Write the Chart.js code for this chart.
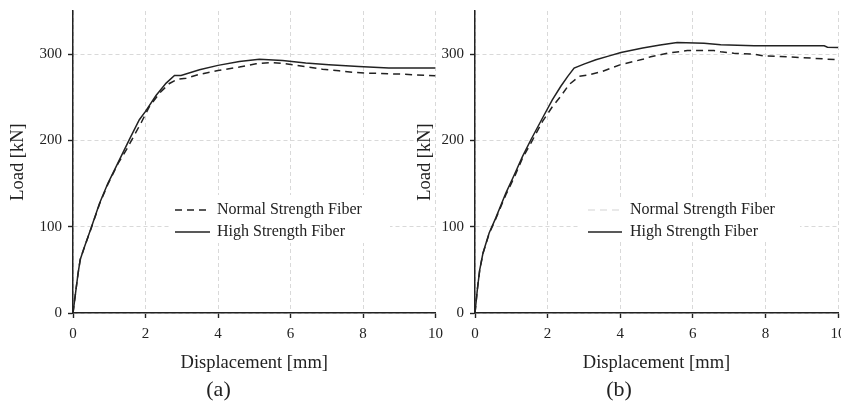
<!DOCTYPE html>
<html><head><meta charset="utf-8">
<script src="https://cdn.jsdelivr.net/npm/chart.js@4"></script>
<style>
html,body{margin:0;padding:0;background:#fff;overflow:hidden;width:841px;height:403px;}
canvas{position:absolute;top:0;}
#ca{left:0;} #cb{left:400px;}
</style></head><body>
<canvas id="ca" width="450" height="403"></canvas>
<canvas id="cb" width="460" height="403"></canvas>
<script>
// ---------- data ----------
const seriesNames = ['Normal Strength Fiber', 'High Strength Fiber'];
const panelLabels = ['(a)', '(b)'];
const xTitle = 'Displacement [mm]';
const yTitle = 'Load [kN]';
const xMajorTicks = [0, 2, 4, 6, 8, 10];
const yMajorTicks = [0, 100, 200, 300];

const aNormalX = [0, 0.07, 0.14, 0.2, 0.32, 0.5, 0.73, 0.96, 1.24, 1.47, 1.88, 2.11, 2.39, 2.66, 2.89, 3.12, 3.49, 4.0, 4.59, 5.05, 5.5, 5.96, 6.51, 6.88, 7.34, 7.79, 8.16, 9.07, 10.0];
const aNormalY = [0, 23, 46, 62, 77, 98, 126, 149, 173, 189, 220.5, 239.4, 255, 266, 271, 272, 276.6, 281, 285, 288.8, 290.3, 288.4, 285, 282.6, 280.7, 278.7, 278, 276.8, 274.9];
const aHighX = [0, 0.07, 0.14, 0.2, 0.32, 0.5, 0.73, 0.96, 1.24, 1.56, 1.83, 2.0, 2.29, 2.57, 2.8, 2.98, 3.49, 4.0, 4.59, 5.14, 5.78, 6.42, 7.06, 7.88, 8.71, 10.0];
const aHighY = [0, 23, 46, 62, 77, 98.5, 127, 150, 174, 201.5, 224, 233.6, 252, 266.4, 275.3, 275.3, 282, 287, 291.5, 294.2, 292.6, 289.6, 287.6, 285.7, 283.8, 283.8];

const bNormalX = [0, 0.064, 0.13, 0.22, 0.39, 0.57, 0.85, 1.08, 1.31, 1.54, 1.86, 2.13, 2.36, 2.59, 2.87, 3.14, 3.51, 4.02, 4.62, 4.84, 5.3, 5.85, 6.58, 6.77, 7.13, 7.69, 7.96, 8.42, 9.25, 10.0];
const bNormalY = [0, 27, 50, 69, 92, 109, 137, 157, 179.5, 197, 222, 239, 251, 264.7, 274.3, 276, 280, 288, 294, 297, 301, 304.2, 304.2, 302.7, 301, 300, 298, 297.3, 295.4, 293.4];
const bHighX = [0, 0.064, 0.13, 0.22, 0.39, 0.57, 0.85, 1.08, 1.31, 1.54, 1.86, 2.13, 2.36, 2.55, 2.73, 3.0, 3.33, 3.7, 4.02, 4.62, 5.1, 5.57, 6.31, 6.77, 7.69, 9.62, 9.71, 10.0];
const bHighY = [0, 27, 50, 69.5, 92.7, 110, 139, 160, 181.5, 200.8, 226, 247, 262.5, 274, 283.8, 288.4, 293.4, 298, 302, 307, 310.5, 313.5, 312.7, 310.8, 309.6, 309.6, 308, 307.7];

// ---------- helpers ----------
const pts = (xs, ys) => xs.map((x, i) => ({x, y: ys[i]}));
const FONT = '"Liberation Serif", "Times New Roman", serif';
const INK = '#222';

const minorTicks = {
  id: 'minorTicks',
  afterDraw(chart) {
    const ctx = chart.ctx, xs = chart.scales.x, ys = chart.scales.y;
    ctx.save();
    ctx.strokeStyle = INK; ctx.lineWidth = 1.2; ctx.setLineDash([]);
    xs.ticks.forEach(t => {
      if (xMajorTicks.includes(t.value)) return;
      const px = xs.getPixelForValue(t.value);
      ctx.beginPath(); ctx.moveTo(px, ys.bottom - 1); ctx.lineTo(px, ys.bottom + 3); ctx.stroke();
    });
    ys.ticks.forEach(t => {
      if (yMajorTicks.includes(t.value)) return;
      const py = ys.getPixelForValue(t.value);
      ctx.beginPath(); ctx.moveTo(xs.left - 4, py); ctx.lineTo(xs.left, py); ctx.stroke();
    });
    ctx.restore();
  }
};

const inLegend = {
  id: 'inLegend',
  beforeDatasetsDraw(chart, args, o) {
    const ctx = chart.ctx;
    ctx.save(); ctx.fillStyle = '#fff';
    ctx.fillRect(o.box[0], o.box[1], o.box[2], o.box[3]);
    ctx.restore();
  },
  afterDatasetsDraw(chart, args, o) {
    const ctx = chart.ctx;
    ctx.save();
    chart.data.datasets.forEach((ds, i) => {
      const y = o.y0 + i * o.dy;
      ctx.beginPath();
      ctx.setLineDash(ds.borderDash || []);
      ctx.strokeStyle = i === 0 ? o.firstColor : ds.borderColor;
      ctx.lineWidth = 1.5;
      ctx.moveTo(o.x0, y); ctx.lineTo(o.x1, y); ctx.stroke();
      ctx.setLineDash([]);
      ctx.fillStyle = INK;
      ctx.font = '16px ' + FONT;
      ctx.textBaseline = 'middle';
      ctx.textAlign = 'left';
      ctx.fillText(ds.label, o.tx, y);
    });
    ctx.restore();
  }
};

function makeChart(id, normal, high, label, yW, yTitlePad, padRight, legend) {
  const titleBox = 22 * 1.2;
  return new Chart(document.getElementById(id), {
    type: 'scatter',
    data: {
      datasets: [
        {label: seriesNames[0], data: normal, showLine: true, borderColor: INK, borderWidth: 1.5, borderDash: [7, 5], pointRadius: 0},
        {label: seriesNames[1], data: high, showLine: true, borderColor: INK, borderWidth: 1.5, pointRadius: 0}
      ]
    },
    options: {
      responsive: false, animation: false, devicePixelRatioOverride: 1,
      layout: {padding: {top: 11, right: padRight, bottom: 0, left: 0}},
      plugins: {
        legend: {display: false}, tooltip: {enabled: false},
        title: {display: true, text: label, position: 'bottom', color: INK, font: {family: FONT, size: 22, weight: 'normal', lineHeight: 1.2}, padding: {top: 0, bottom: 0}},
        inLegend: legend
      },
      scales: {
        x: {
          type: 'linear', min: 0, max: 10,
          afterFit: s => { s.height = 90 - titleBox; },
          ticks: {stepSize: 1, autoSkip: false, color: INK, padding: 7, font: {family: FONT, size: 15},
                  callback: v => xMajorTicks.includes(v) ? String(v) : null},
          grid: {color: '#d9d9d9', lineWidth: 1, tickLength: 5, tickWidth: 1.4,
                 tickColor: c => (c.tick && xMajorTicks.includes(c.tick.value)) ? INK : 'rgba(0,0,0,0)'},
          border: {color: INK, width: 1.5, dash: [4, 3]},
          title: {display: true, text: xTitle, color: INK, font: {family: FONT, size: 18.5, lineHeight: 1.2}, padding: {top: 0, bottom: 2.5}}
        },
        y: {
          type: 'linear', min: 0, max: 350,
          afterFit: s => { s.width = yW; s.paddingTop = 0; s.paddingBottom = 0; },
          ticks: {stepSize: 50, autoSkip: false, color: INK, padding: 6, font: {family: FONT, size: 15},
                  callback: v => yMajorTicks.includes(v) ? String(v) : null},
          grid: {color: '#d9d9d9', lineWidth: 1, tickLength: 5, tickWidth: 1.4,
                 tickColor: c => (c.tick && yMajorTicks.includes(c.tick.value)) ? INK : 'rgba(0,0,0,0)'},
          border: {color: INK, width: 1.5, dash: [4, 3]},
          title: {display: true, text: yTitle, color: INK, font: {family: FONT, size: 18.5, lineHeight: 1.2}, padding: {top: yTitlePad, bottom: 0}}
        }
      }
    },
    plugins: [minorTicks, inLegend]
  });
}

makeChart('ca', pts(aNormalX, aNormalY), pts(aHighX, aHighY), panelLabels[0], 73, 7, 13,
  {box: [170, 195, 220, 48], x0: 175, x1: 210, tx: 217, y0: 210, dy: 22, firstColor: INK});
makeChart('cb', pts(bNormalX, bNormalY), pts(bHighX, bHighY), panelLabels[1], 75, 14, 22,
  {box: [180, 200, 220, 40], x0: 188, x1: 222, tx: 230, y0: 210, dy: 22, firstColor: '#e2e2e2'});
</script>
</body></html>
